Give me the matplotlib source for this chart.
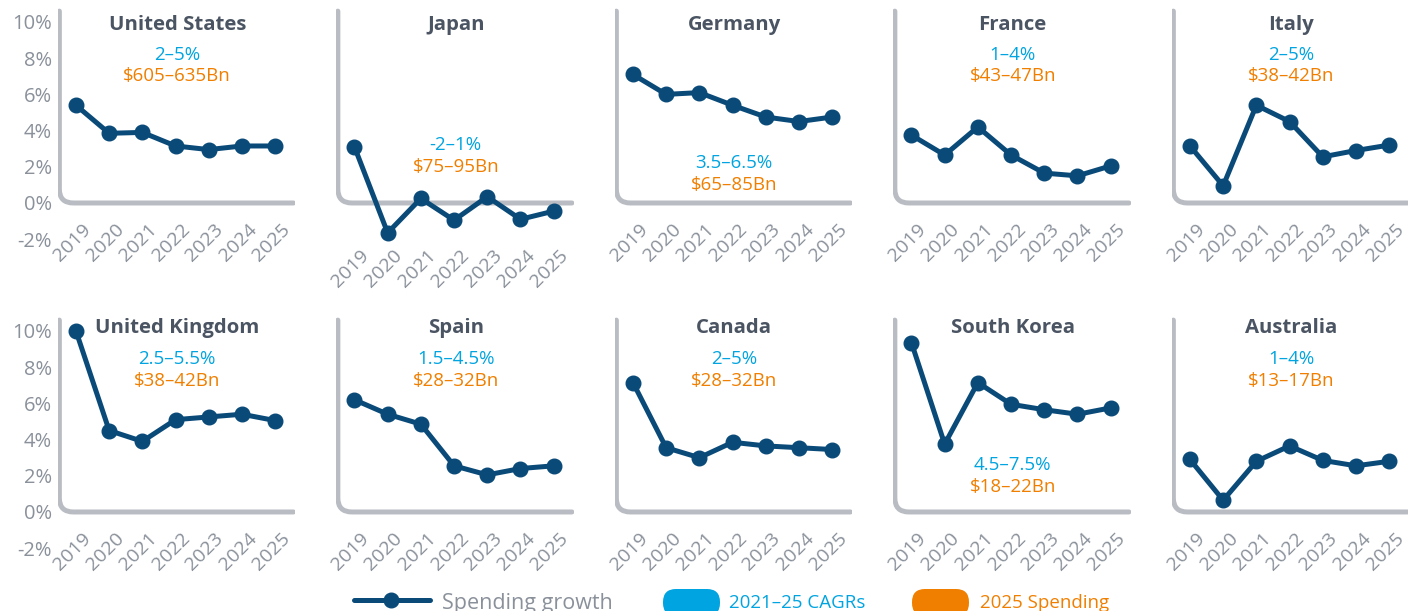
import matplotlib
matplotlib.use('Agg')
import matplotlib.pyplot as plt
from matplotlib.patches import FancyArrowPatch, FancyBboxPatch
from matplotlib.lines import Line2D

plt.rcParams['font.family'] = ['Open Sans', 'DejaVu Sans']

# ---------------- data ----------------
years = ['2019', '2020', '2021', '2022', '2023', '2024', '2025']
countries = ['United States', 'Japan', 'Germany', 'France', 'Italy',
             'United Kingdom', 'Spain', 'Canada', 'South Korea', 'Australia']
us = [5.4, 3.85, 3.9, 3.15, 2.95, 3.15, 3.15]
japan = [3.1, -1.65, 0.25, -0.95, 0.35, -0.9, -0.45]
germany = [7.1, 6.0, 6.1, 5.4, 4.75, 4.5, 4.75]
france = [3.75, 2.65, 4.2, 2.65, 1.65, 1.5, 2.05]
italy = [3.15, 0.95, 5.4, 4.5, 2.55, 2.9, 3.2]
uk = [10.0, 4.5, 3.9, 5.1, 5.25, 5.4, 5.05]
spain = [6.2, 5.4, 4.85, 2.55, 2.05, 2.4, 2.55]
canada = [7.15, 3.55, 3.0, 3.85, 3.65, 3.55, 3.45]
south_korea = [9.35, 3.75, 7.15, 5.95, 5.65, 5.4, 5.75]
australia = [2.9, 0.65, 2.8, 3.65, 2.85, 2.55, 2.8]
series = [us, japan, germany, france, italy, uk, spain, canada, south_korea, australia]
cagr = ['2–5%', '-2–1%', '3.5–6.5%', '1–4%', '2–5%',
        '2.5–5.5%', '1.5–4.5%', '2–5%', '4.5–7.5%', '1–4%']
spend = ['$605–635Bn', '$75–95Bn', '$65–85Bn', '$43–47Bn', '$38–42Bn',
         '$38–42Bn', '$28–32Bn', '$28–32Bn', '$18–22Bn', '$13–17Bn']
yticks = [-2, 0, 2, 4, 6, 8, 10]
ytick_labels = ['-2%', '0%', '2%', '4%', '6%', '8%', '10%']
legend_labels = ['Spending growth', '2021–25 CAGRs', '2025 Spending']

# annotation vertical placement (data units) per panel
note_y = [8.2, 3.2, 2.2, 8.2, 8.2, 8.45, 8.45, 8.45, 2.6, 8.45]

# ---------------- style ----------------
LINE = '#0a4a79'
SPINE = '#b9bdc3'
TICK = '#8a919b'
TITLE = '#4a5462'
CYAN = '#00a4e0'
ORANGE = '#f07f00'

W, H = 1408, 611
fig = plt.figure(figsize=(W / 100, H / 100), dpi=100)

x_step = 278.5
ax_w = 237.4 / W
ax_h = 235.3 / H
row_bottom = [0.6026, 0.0969]

for k, (name, vals) in enumerate(zip(countries, series)):
    row, col = divmod(k, 5)
    left = (57.7 + x_step * col) / W
    ax = fig.add_axes([left, row_bottom[row], ax_w, ax_h])
    ax.set_xlim(-0.55, 6.6)
    ax.set_ylim(-2.2, 10.8)
    for s in ax.spines.values():
        s.set_visible(False)
    ax.set_xticks([])
    ax.set_yticks(yticks)
    if col == 0:
        ax.set_yticklabels(ytick_labels)
        ax.tick_params(axis='y', length=0, pad=4, labelsize=14.5, labelcolor=TICK)
    else:
        ax.set_yticklabels([])
        ax.tick_params(axis='y', length=0)
    ax.patch.set_alpha(0)

    # rounded L-shaped axis
    spine = FancyArrowPatch(posA=(-0.5, 10.6), posB=(6.55, 0),
                            connectionstyle='angle,angleA=90,angleB=0,rad=14',
                            arrowstyle='-', shrinkA=0, shrinkB=0,
                            color=SPINE, lw=3.6, capstyle='round',
                            joinstyle='round', zorder=1)
    ax.add_patch(spine)

    xs = list(range(len(years)))
    ax.plot(xs, vals, color=LINE, lw=3.6, marker='o', ms=10.5,
            solid_joinstyle='round', zorder=3, clip_on=False)

    # year labels
    ly = min(-2.2, min(vals) - 1.95)
    for i, yr in enumerate(years):
        ax.text(i - 0.12, ly, yr, rotation=45, rotation_mode='anchor',
                ha='center', va='center', fontsize=14, color=TICK, clip_on=False)

    ty = 9.85 if row == 0 else 10.15
    ax.text(3.05, ty, name, ha='center', va='center', fontsize=14.7,
            fontweight='bold', color=TITLE)
    ax.text(3.05, note_y[k], cagr[k], ha='center', va='center',
            fontsize=13.5, color=CYAN)
    ax.text(3.05, note_y[k] - 1.2, spend[k], ha='center', va='center',
            fontsize=13.5, color=ORANGE)

# ---------------- legend ----------------
lg = fig.add_axes([0, 0, 1, 1])
lg.set_xlim(0, W)
lg.set_ylim(H, 0)
lg.axis('off')
lg.patch.set_alpha(0)
lg.add_line(Line2D([354, 430], [600, 600], color=LINE, lw=3.6,
                   solid_capstyle='round'))
lg.add_line(Line2D([391], [600], color=LINE, marker='o', ms=10.5))
lg.text(442, 603, legend_labels[0], ha='left', va='center', fontsize=15.5, color=TICK)
lg.add_patch(FancyBboxPatch((663, 589), 57, 27,
                            boxstyle='round,pad=0,rounding_size=13',
                            fc=CYAN, ec='none'))
lg.text(729, 603, legend_labels[1], ha='left', va='center', fontsize=13.5, color=CYAN)
lg.add_patch(FancyBboxPatch((912, 589), 57, 27,
                            boxstyle='round,pad=0,rounding_size=13',
                            fc=ORANGE, ec='none'))
lg.text(980, 603, legend_labels[2], ha='left', va='center', fontsize=13.5, color=ORANGE)

fig.savefig('out.png', dpi=100)
